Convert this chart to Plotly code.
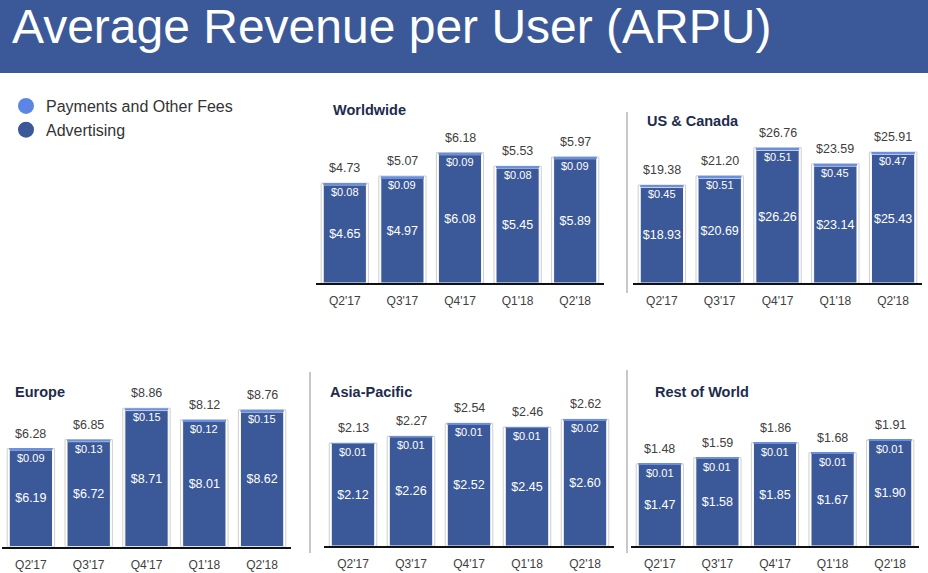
import plotly.graph_objects as go

W, H = 928, 573

quarters = ["Q2'17", "Q3'17", "Q4'17", "Q1'18", "Q2'18"]

ww_adv = [4.65, 4.97, 6.08, 5.45, 5.89]
ww_pay = [0.08, 0.09, 0.09, 0.08, 0.09]
ww_tot = [4.73, 5.07, 6.18, 5.53, 5.97]

us_adv = [18.93, 20.69, 26.26, 23.14, 25.43]
us_pay = [0.45, 0.51, 0.51, 0.45, 0.47]
us_tot = [19.38, 21.20, 26.76, 23.59, 25.91]

eu_adv = [6.19, 6.72, 8.71, 8.01, 8.62]
eu_pay = [0.09, 0.13, 0.15, 0.12, 0.15]
eu_tot = [6.28, 6.85, 8.86, 8.12, 8.76]

ap_adv = [2.12, 2.26, 2.52, 2.45, 2.60]
ap_pay = [0.01, 0.01, 0.01, 0.01, 0.02]
ap_tot = [2.13, 2.27, 2.54, 2.46, 2.62]

row_adv = [1.47, 1.58, 1.85, 1.67, 1.90]
row_pay = [0.01, 0.01, 0.01, 0.01, 0.01]
row_tot = [1.48, 1.59, 1.86, 1.68, 1.91]

DARK = "#3b5998"
LIGHT = "#6a8fdc"
FONT = "Liberation Sans, Arial, sans-serif"

# panel layout in pixels: x0, x1, y top, y baseline, y max, title x, title y
panels = [
    ("Worldwide", ww_adv, ww_pay, ww_tot, 316, 604, 100, 283, 8.67, 331, 110),
    ("US & Canada", us_adv, us_pay, us_tot, 633, 922, 100, 283, 36.2, 645, 121),
    ("Europe", eu_adv, eu_pay, eu_tot, 2, 291, 370, 546.5, 11.31, 13, 392),
    ("Asia-Pacific", ap_adv, ap_pay, ap_tot, 324, 614, 370, 546, 3.64, 328, 392),
    ("Rest of World", row_adv, row_pay, row_tot, 631, 919, 370, 546, 3.17, 653, 392),
]

fig = go.Figure()
annotations = []

for i, (name, adv, pay, tot, x0, x1, yt, yb, ymax, tx, ty) in enumerate(panels, start=1):
    xa = "x" if i == 1 else "x%d" % i
    ya = "y" if i == 1 else "y%d" % i
    # outline behind each bar
    fig.add_trace(go.Bar(x=quarters, y=tot, width=0.82, xaxis=xa, yaxis=ya,
                         marker=dict(color="white", line=dict(color="#cfcfcf", width=1)),
                         showlegend=False, hoverinfo="skip"))
    fig.add_trace(go.Bar(x=quarters, y=adv, width=0.75, xaxis=xa, yaxis=ya,
                         marker=dict(color=DARK, line=dict(color="white", width=1)),
                         texttemplate="$%{y:.2f}", textposition="inside", textangle=0,
                         insidetextanchor="middle", constraintext="none",
                         textfont=dict(color="white", size=12.5, family=FONT),
                         showlegend=False))
    fig.add_trace(go.Bar(x=quarters, y=pay, base=adv, width=0.75, xaxis=xa, yaxis=ya,
                         marker=dict(color=LIGHT, line=dict(width=0)),
                         showlegend=False))
    for q, p, t in zip(quarters, pay, tot):
        annotations.append(dict(x=q, y=t, xref=xa, yref=ya, text="$%.2f" % p,
                                showarrow=False, yshift=-9,
                                font=dict(color="white", size=11, family=FONT)))
        annotations.append(dict(x=q, y=t, xref=xa, yref=ya, text="$%.2f" % t,
                                showarrow=False, yshift=15,
                                font=dict(color="#404040", size=12.5, family=FONT)))
    annotations.append(dict(x=tx / W, y=1 - ty / H, xref="paper", yref="paper",
                            xanchor="left", yanchor="middle", showarrow=False,
                            text="<b>%s</b>" % name,
                            font=dict(color="#1d2b4d", size=14.5, family=FONT)))
    key = "" if i == 1 else str(i)
    fig.layout["xaxis" + key] = dict(domain=[x0 / W, x1 / W], anchor=ya, type="category",
                                     showline=True, linecolor="#111111", linewidth=2,
                                     showgrid=False, zeroline=False, ticks="",
                                     ticklabelstandoff=6,
                                     tickfont=dict(size=12, color="#404040", family=FONT),
                                     fixedrange=True)
    fig.layout["yaxis" + key] = dict(domain=[1 - yb / H, 1 - yt / H], anchor=xa,
                                     range=[0, ymax], visible=False, fixedrange=True)

# legend entries
fig.add_trace(go.Scatter(x=[None], y=[None], mode="markers", name="Payments and Other Fees",
                         marker=dict(color="#5b86e5", size=16, symbol="circle")))
fig.add_trace(go.Scatter(x=[None], y=[None], mode="markers", name="Advertising",
                         marker=dict(color=DARK, size=16, symbol="circle")))

# title
annotations.append(dict(x=10 / W, y=1 - 26 / H, xref="paper", yref="paper",
                        xanchor="left", yanchor="middle", showarrow=False,
                        text="Average Revenue per User (ARPU)",
                        font=dict(color="white", size=48, family=FONT)))

shapes = [dict(type="rect", xref="paper", yref="paper", x0=0, x1=1, y0=1 - 73 / H, y1=1,
               fillcolor=DARK, line=dict(width=0), layer="below")]
for sx, sy0, sy1 in [(627, 112, 293), (310, 372, 553), (627, 370, 553)]:
    shapes.append(dict(type="line", xref="paper", yref="paper",
                       x0=sx / W, x1=sx / W, y0=1 - sy1 / H, y1=1 - sy0 / H,
                       line=dict(color="#c8c8c8", width=2)))

fig.update_layout(
    width=W, height=H,
    margin=dict(l=0, r=0, t=0, b=0),
    barmode="overlay",
    paper_bgcolor="white", plot_bgcolor="white",
    font=dict(family=FONT),
    annotations=annotations,
    shapes=shapes,
    showlegend=True,
    legend=dict(x=6 / W, y=1 - 89 / H, xanchor="left", yanchor="top",
                font=dict(size=16, color="#333333", family=FONT),
                bgcolor="rgba(0,0,0,0)", tracegroupgap=0),
)

fig.write_html("out.html", config={"displayModeBar": False},
               post_script="document.body.style.margin='0';document.body.style.overflow='hidden';")
